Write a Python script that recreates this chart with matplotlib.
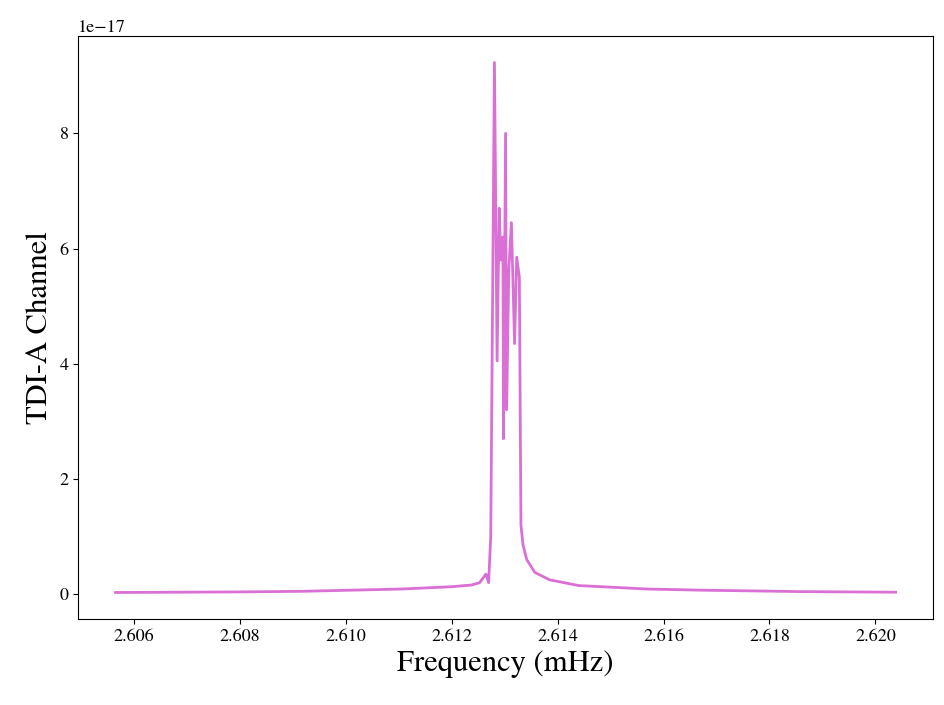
import matplotlib
matplotlib.use("Agg")
import matplotlib.pyplot as plt
import numpy as np

plt.rcParams['font.family'] = ['STIXGeneral', 'Liberation Serif', 'DejaVu Serif']
plt.rcParams['mathtext.fontset'] = 'stix'

# frequency in mHz, amplitude in units of 1e-17
freq = [2.60566, 2.6080, 2.60916, 2.61105, 2.61200, 2.61238, 2.61253, 2.61265, 2.61270,
        2.61274, 2.61281, 2.61286, 2.61290, 2.61293, 2.61297, 2.61298, 2.61302,
        2.61304, 2.61308, 2.61313, 2.61319, 2.61323, 2.61328, 2.61331, 2.61335,
        2.61342, 2.61357, 2.61385, 2.61440, 2.61570, 2.61673, 2.61862, 2.62038]
amp = [0.03, 0.04, 0.05, 0.09, 0.13, 0.16, 0.20, 0.35, 0.20,
       1.0, 9.23, 4.05, 6.7, 5.8, 6.2, 2.7, 8.0,
       3.2, 5.6, 6.45, 4.35, 5.85, 5.5, 1.2, 0.85,
       0.6, 0.38, 0.25, 0.15, 0.09, 0.07, 0.045, 0.035]

fig, ax = plt.subplots(figsize=(9.45, 7.05), dpi=100)
ax.plot(freq, np.array(amp) * 1e-17, color='orchid', lw=2)
ax.set_xlim(2.60496, 2.62108)
ax.set_xlabel('Frequency (mHz)', fontsize=22)
ax.set_ylabel('TDI-A Channel', fontsize=22)
ax.tick_params(labelsize=13)
ax.yaxis.get_offset_text().set_fontsize(13)
ax.xaxis.set_major_formatter(matplotlib.ticker.FormatStrFormatter('%.3f'))
fig.subplots_adjust(left=0.083, right=0.987, bottom=0.122, top=0.949)
fig.savefig('out.png')
